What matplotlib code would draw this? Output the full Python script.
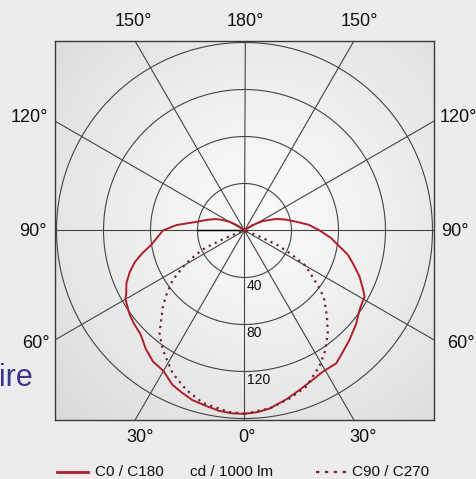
import matplotlib.pyplot as plt
import numpy as np

plt.rcParams['font.family'] = ['Liberation Sans', 'DejaVu Sans']

# C0 / C180 (solid), angle from nadir in degrees -> cd / 1000 lm
c0_ang = [0, 4, 8, 12, 17, 21, 25, 30, 35, 40, 45, 50, 54, 60, 62, 66, 70, 74, 77.5, 81.4, 85, 90,
          94.6, 100, 106, 112, 116, 120, 124, 127, 131, 135]
c0_val = [156, 156, 155, 153, 151, 148, 145, 138, 136, 131, 125, 123, 121, 117, 114, 110, 104, 97, 89, 80, 75, 69.5,
          58, 42, 33, 26, 20, 15, 9, 5, 2, 0]
c180_ang = [0, 4, 8, 14, 19, 24, 29, 34.6, 39, 43.8, 50, 55.3, 61.2, 64, 68.2, 73.2, 77, 80.4, 85, 90,
            95, 99.7, 105, 110, 117.4, 123.5, 130, 135]
c180_val = [156, 155, 153, 148, 143.6, 140, 137.4, 137.4, 133, 129, 124, 119, 116.6, 112, 105.4, 96.3, 90, 82, 74, 64,
            55, 44.6, 36, 28.7, 17.5, 8.5, 3, 0]

# C90 / C270 (dotted)
c90_ang = [0, 5, 13.6, 20, 26.7, 30, 34.4, 39.6, 43, 47, 51, 55.5, 60, 63, 66, 68.5, 70, 72]
c90_val = [156, 155, 151, 144.5, 136, 130, 123, 113.5, 104, 95, 85, 74, 59, 48, 37, 18, 8, 0]
c270_ang = [0, 8, 15, 21.6, 28.9, 34, 39, 44, 49, 52, 55, 60, 63, 66, 68, 70, 72]
c270_val = [156, 153, 148, 142.8, 132, 123, 112.6, 101, 90, 82, 72, 60, 45, 32, 16, 6, 0]

rings = [40, 80, 120, 160]
ring_labels = ['40', '80', '120']
spokes = np.arange(0, 360, 30)

# angle labels: (text, x px, y px)
angle_labels = [('150°', 133, 22), ('180°', 245, 22), ('150°', 359, 22),
                ('120°', 29, 117), ('90°', 33, 232), ('60°', 36, 344),
                ('120°', 458, 117), ('90°', 455, 232), ('60°', 461, 344),
                ('30°', 140, 437), ('0°', 247, 437), ('30°', 363, 437)]

W, H = 477, 479
fig = plt.figure(figsize=(W / 100, H / 100), dpi=100)
fig.patch.set_facecolor('#ececec')

lim = 189.5 / 1.175
ax = fig.add_axes([55 / W, 59 / H, 379 / W, 379 / H])
ax.set_xlim(-lim, lim)
ax.set_ylim(-lim, lim)
ax.set_aspect('equal')
ax.set_xticks([])
ax.set_yticks([])
for s in ax.spines.values():
    s.set_color('#3a3a3a')
    s.set_linewidth(1.0)

# radial background shading
g = np.linspace(-1, 1, 300)
gx, gy = np.meshgrid(g, g)
shade = 0.975 - 0.12 * np.clip(np.hypot(gx - 0.1, gy + 0.1) / 1.5, 0, 1) ** 1.3
ax.imshow(shade, extent=[-lim, lim, -lim, lim], cmap='gray', vmin=0, vmax=1,
          zorder=0, interpolation='bilinear')

grid_col = '#444444'
t = np.linspace(0, 2 * np.pi, 400)
for r in rings:
    ax.plot(r * np.cos(t), r * np.sin(t), color=grid_col, lw=0.8, zorder=1)
for a in spokes:
    rad = np.deg2rad(a)
    ax.plot([0, 400 * np.sin(rad)], [0, -400 * np.cos(rad)], color=grid_col, lw=0.8, zorder=1)
ax.plot([-rings[0], 0], [0, 0], color='#000000', lw=1.0, zorder=1)

for r, lab in zip(rings, ring_labels):
    ax.text(2, -r - 1.5, lab, fontsize=10, ha='left', va='top', color='#111111', zorder=2)


def to_xy(ang, val, side):
    a = np.deg2rad(np.array(ang))
    v = np.array(val)
    return side * v * np.sin(a), -v * np.cos(a)


red = '#b01e2a'
dark = '#6a2a30'
x, y = to_xy(c0_ang, c0_val, -1)
ax.plot(x, y, color=red, lw=1.4, zorder=3)
x, y = to_xy(c180_ang, c180_val, 1)
ax.plot(x, y, color=red, lw=1.4, zorder=3)
x, y = to_xy(c90_ang, c90_val, -1)
ax.plot(x, y, color=dark, lw=1.6, ls=(0, (1, 2)), zorder=3)
x, y = to_xy(c270_ang, c270_val, 1)
ax.plot(x, y, color=dark, lw=1.6, ls=(0, (1, 2)), zorder=3)

for txt, px, py in angle_labels:
    fig.text(px / W, 1 - py / H, txt, fontsize=13, ha='center', va='center', color='#111111')

# legend row
fig.add_artist(plt.Line2D([57 / W, 88 / W], [1 - 472 / H] * 2, color=red, lw=2))
fig.text(95 / W, 1 - 472 / H, 'C0 / C180', fontsize=11, ha='left', va='center', color='#111111')
fig.text(190 / W, 1 - 472 / H, 'cd / 1000 lm', fontsize=11, ha='left', va='center', color='#111111')
fig.add_artist(plt.Line2D([316 / W, 346 / W], [1 - 472 / H] * 2, color=dark, lw=1.6,
                          ls=(0, (1.5, 2.5))))
fig.text(352 / W, 1 - 472 / H, 'C90 / C270', fontsize=11, ha='left', va='center', color='#111111')

# leftover slide text at the left edge
fig.text(-1 / W, 1 - 378 / H, 'ire', fontsize=22, ha='left', va='center', color='#3b3690')

fig.savefig('out.png', dpi=100, facecolor=fig.get_facecolor())
